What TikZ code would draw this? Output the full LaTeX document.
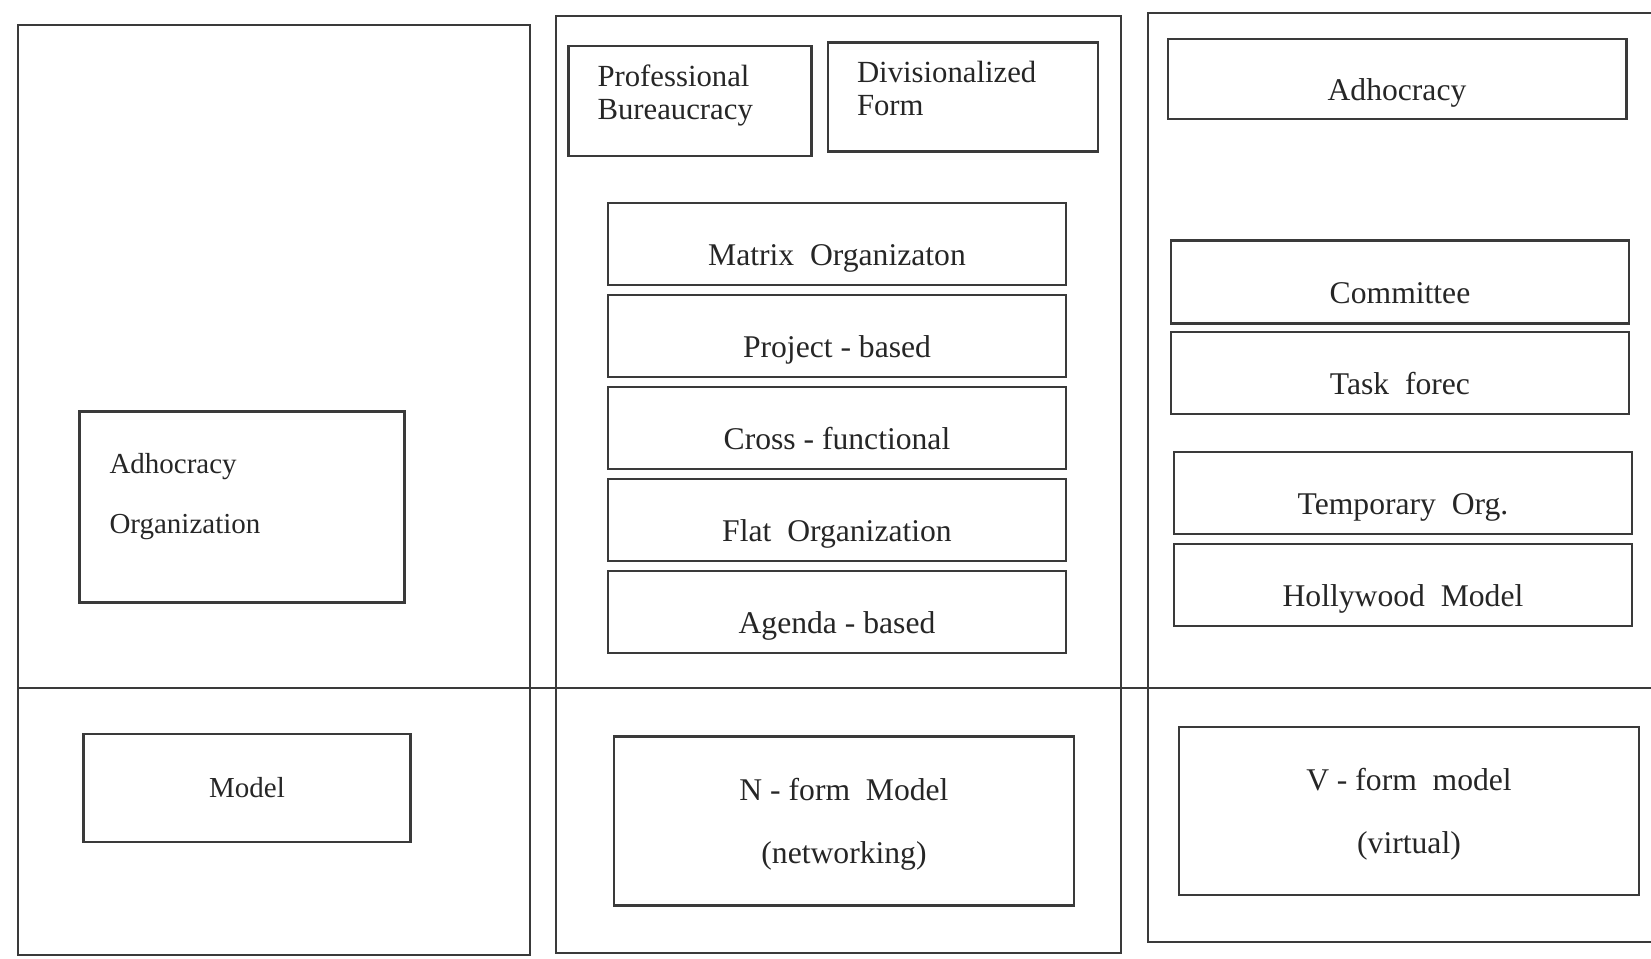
\documentclass[tikz,border=0pt]{standalone}
\usepackage{fontspec}
\setmainfont{Liberation Serif}
\usetikzlibrary{positioning}
\definecolor{inkgray}{HTML}{3A3A3A}

\tikzset{
    box/.style={draw=inkgray, line width=1.2pt, inner sep=0pt,
        minimum width=9.16cm, minimum height=1.64cm,
        text height=0.86cm, text depth=0pt,
        font=\fontsize{18}{22}\selectfont, text=black!85},
    sidebox/.style={box, minimum width=0pt, align=left,
        text height=, text width=#1, inner xsep=0.58cm},
    panel/.style={draw=inkgray, line width=1.4pt}
}

\begin{document}
\begin{tikzpicture}[x=0.02cm, y=-0.02cm]
                \useasboundingbox (0,0) rectangle (1651,958);
                \draw[panel] (18,25) rectangle (530,955);
                \draw[panel] (556,16) rectangle (1121,953);
                \draw[panel] (1660,13) -- (1148,13) -- (1148,942) -- (1660,942);
                \draw[panel] (18,688) -- (1651,688);

                \node[sidebox=5.3cm, inner xsep=0.6cm, minimum height=3.82cm, text depth=1.75cm,
                    font=\fontsize{16.5}{34}\selectfont] (adorg) at (242,507)
                    {Adhocracy\\Organization};
                \node[box, minimum width=6.54cm, minimum height=2.16cm, text height=, text depth=,
                    font=\fontsize{16.5}{20}\selectfont] (model) at (247,788) {Model};

                \node[sidebox=3.7cm, minimum height=2.2cm, text depth=1.0cm,
                    font=\fontsize{17.5}{18.5}\selectfont] (prof) at (690,101)
                    {Professional\\Bureaucracy};
                \node[sidebox=4.24cm, minimum height=2.18cm, text depth=0.99cm,
                    font=\fontsize{17.5}{18.5}\selectfont] (divform) at (963,97)
                    {Divisionalized\\Form};
                \node[box] (matrixorg) at (837,244) {Matrix\ \ Organizaton};
                \node[box, below=0.16cm of matrixorg] (projbased) {Project - based};
                \node[box, below=0.16cm of projbased] (crossfunc) {Cross - functional};
                \node[box, below=0.16cm of crossfunc] (flatorg) {Flat\ \ Organization};
                \node[box, below=0.16cm of flatorg] (agenda) {Agenda - based};
                \node[box, minimum width=9.2cm, minimum height=3.38cm, align=center,
                    text height=, text depth=0pt,
                    font=\fontsize{18}{36}\selectfont] (nform) at (844,821)
                    {N - form\ \ Model\\(networking)};

                \node[box, minimum width=9.18cm, minimum height=1.6cm] (adhoc) at (1397,79) {Adhocracy};
                \node[box, minimum height=1.66cm] (committee) at (1400,282) {Committee};
                \node[box, below=0.12cm of committee] (taskforce) {Task\ \ forec};
                \node[box] (temporary) at (1403,493) {Temporary\ \ Org.};
                \node[box, below=0.16cm of temporary] (hollywood) {Hollywood\ \ Model};
                \node[box, minimum width=9.2cm, minimum height=3.36cm, align=center,
                    text height=, text depth=0pt,
                    font=\fontsize{18}{36}\selectfont] (vform) at (1409,811)
                    {V - form\ \ model\\(virtual)};
            \end{tikzpicture}
\end{document}
